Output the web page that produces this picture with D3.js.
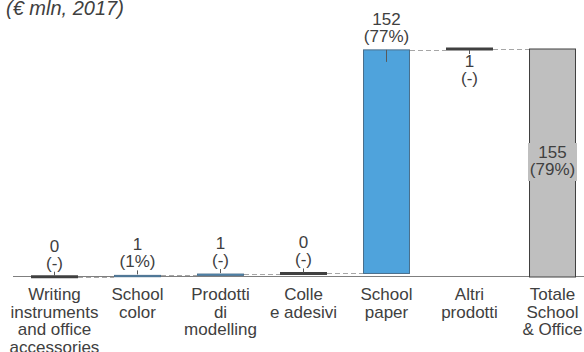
<!DOCTYPE html>
<html>
<head>
<meta charset="utf-8">
<script src="https://cdn.jsdelivr.net/npm/d3@7"></script>
<style>
  html, body { margin: 0; padding: 0; background: #fff; }
  svg { display: block; }
</style>
</head>
<body>
<svg id="chart" width="584" height="352"></svg>
<script>
// ---- data ----
const categories = [
  ["Writing", "instruments", "and office", "accessories"],
  ["School", "color"],
  ["Prodotti", "di", "modelling"],
  ["Colle", "e adesivi"],
  ["School", "paper"],
  ["Altri", "prodotti"],
  ["Totale", "School", "& Office"]
];
const values = [0.2, 0.9, 0.9, 0.4, 152.0, 0.6, 155];
const shareLabels = ["(-)", "(1%)", "(-)", "(-)", "(77%)", "(-)", "(79%)"];
const barTypes = ["flat", "up", "up", "flat", "up", "flat", "total"];
const labelPlacement = ["above", "above", "above", "above", "above", "below", "inside"];
const unitNote = "(€ mln, 2017)";

// ---- layout ----
const W = 584, H = 352;
const svg = d3.select("#chart");
const font = "'Liberation Sans', Arial, sans-serif";
const textColor = "#404040";
const fs = 17;

const x = d3.scaleBand()
  .domain(d3.range(categories.length))
  .range([13, 594])
  .paddingInner(0.434)
  .paddingOuter(0.217);

const y = d3.scaleLinear().domain([0, 155]).range([277, 49]);

// cumulative positions
let cum = 0;
const bars = values.map((v, i) => {
  let start, end;
  if (barTypes[i] === "total") { start = 0; end = v; }
  else { start = cum; end = cum + v; cum = end; }
  return { i, v, start, end, type: barTypes[i] };
});

// unit note
svg.append("text")
  .attr("x", 6).attr("y", 15)
  .attr("font-family", font).attr("font-style", "italic")
  .attr("font-size", 20).attr("fill", textColor)
  .text(unitNote);

// axis baseline
svg.append("line")
  .attr("x1", 13).attr("x2", W)
  .attr("y1", y(0) - 0.5).attr("y2", y(0) - 0.5)
  .attr("stroke", "#7f7f7f").attr("stroke-width", 1);

// connectors
for (let k = 0; k < bars.length - 1; k++) {
  const b = bars[k];
  const yy = Math.round(y(b.end)) + 0.5;
  svg.append("line")
    .attr("x1", x(k) + x.bandwidth()).attr("x2", x(k + 1))
    .attr("y1", yy).attr("y2", yy)
    .attr("stroke", "#a6a6a6").attr("stroke-width", 1)
    .attr("stroke-dasharray", "5,3");
}

// bars
bars.forEach(b => {
  const bx = x(b.i), bw = x.bandwidth();
  if (b.type === "flat") {
    svg.append("line")
      .attr("x1", bx).attr("x2", bx + bw)
      .attr("y1", y(b.end)).attr("y2", y(b.end))
      .attr("stroke", "#404040").attr("stroke-width", 3);
  } else {
    const top = y(b.end), bot = y(b.start);
    svg.append("rect")
      .attr("x", bx + 0.5).attr("y", top)
      .attr("width", bw - 1).attr("height", Math.max(1, bot - top))
      .attr("fill", b.type === "total" ? "#bfbfbf" : "#4fa3dc")
      .attr("stroke", b.type === "total" ? "#404040" : "#4a6f8c")
      .attr("stroke-width", 1);
  }
});

// value labels (one text element with two lines)
const fmt = d3.format(".0f");
function twoLine(cx, y1, y2, b) {
  const t = svg.append("text")
    .attr("font-family", font).attr("font-size", fs)
    .attr("fill", textColor).attr("text-anchor", "middle");
  t.append("tspan").attr("x", cx).attr("y", y1).text(fmt(b.v));
  t.append("tspan").attr("x", cx).attr("y", y2).text(shareLabels[b.i]);
}
bars.forEach(b => {
  const cx = x(b.i) + x.bandwidth() / 2;
  const place = labelPlacement[b.i];
  if (place === "above") {
    const top = y(b.end);
    const big = (y(b.start) - top) > 20;
    twoLine(cx, top - 25, top - 8, b);
    svg.append("line")
      .attr("x1", cx).attr("x2", cx)
      .attr("y1", big ? top : top - 1).attr("y2", big ? top + 12 : top - 5)
      .attr("stroke", "#595959").attr("stroke-width", 1);
  } else if (place === "below") {
    const yb = y(b.end);
    svg.append("line")
      .attr("x1", cx).attr("x2", cx)
      .attr("y1", yb + 1).attr("y2", yb + 5)
      .attr("stroke", "#595959").attr("stroke-width", 1);
    twoLine(cx, yb + 18, yb + 35, b);
  } else {
    const mid = (y(b.start) + y(b.end)) / 2;
    svg.append("rect")
      .attr("x", x(b.i) - 1).attr("y", mid - 20)
      .attr("width", x.bandwidth() + 2).attr("height", 38)
      .attr("fill", "#bfbfbf");
    twoLine(cx, mid - 5, mid + 12, b);
  }
});

// category labels
categories.forEach((lines, i) => {
  const cx = x(i) + x.bandwidth() / 2;
  const t = svg.append("text")
    .attr("font-family", font).attr("font-size", fs)
    .attr("fill", textColor).attr("text-anchor", "middle");
  lines.forEach((ln, j) => {
    t.append("tspan").attr("x", cx).attr("y", 300 + j * 17.7).text(ln);
  });
});
</script>
</body>
</html>
